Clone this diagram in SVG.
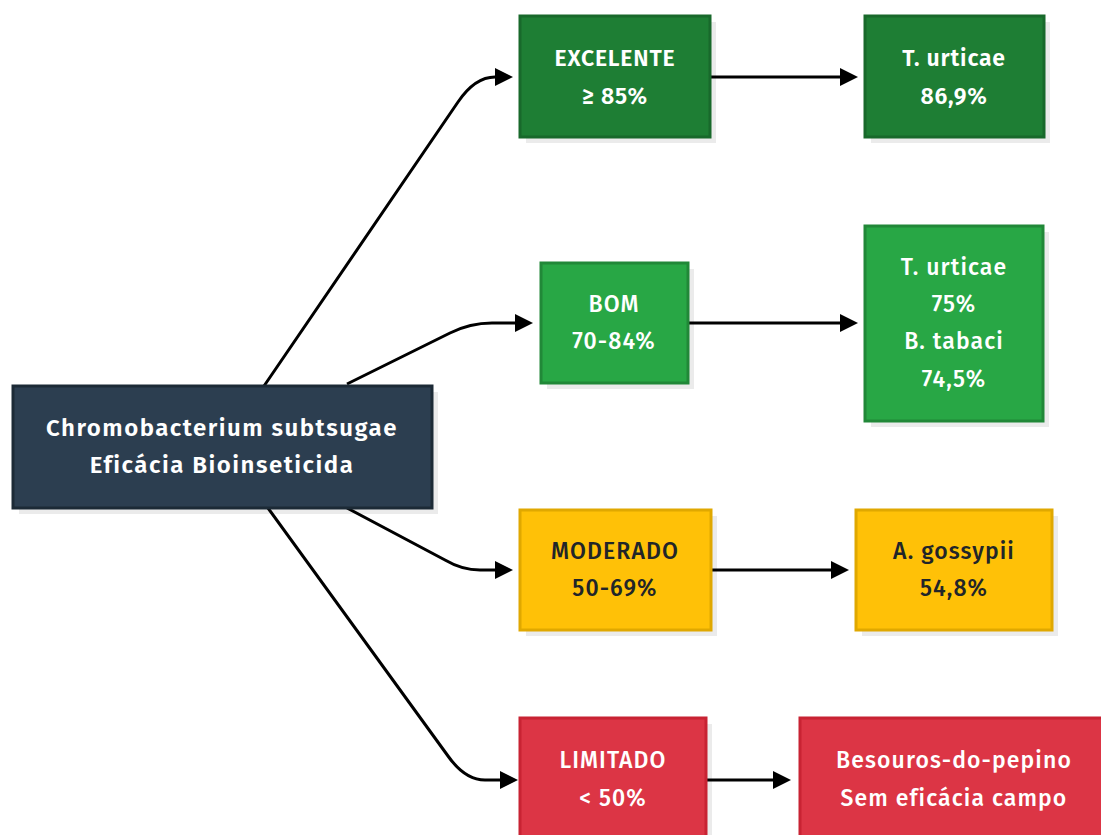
<svg xmlns="http://www.w3.org/2000/svg" width="1101" height="835" viewBox="0 0 1101 835">
<style>
text{font-family:"Fira Sans","Open Sans","Noto Sans","DejaVu Sans",sans-serif;font-size:23px;letter-spacing:0.8px;text-anchor:middle;dominant-baseline:central}
.t{font-size:24px;letter-spacing:1.5px}
.w{fill:#ffffff}.d{fill:#212529}
.b{font-weight:600}.m{font-weight:500;letter-spacing:1.1px}
.sh{fill:#000;opacity:0.08}
.c{fill:none;stroke:#000;stroke-width:3}
.dark{fill:#2c3e50;stroke:#1c2a36;stroke-width:3}
.g1{fill:#1e7e34;stroke:#18692b;stroke-width:3}
.g2{fill:#28a745;stroke:#218838;stroke-width:3}
.y{fill:#ffc107;stroke:#e0a800;stroke-width:3}
.r{fill:#dc3545;stroke:#c82333;stroke-width:3}
</style>
<defs>
<marker id="ah" viewBox="0 0 10 10" refX="0" refY="5" markerWidth="6" markerHeight="6" markerUnits="strokeWidth" orient="auto">
<path d="M0,0 L10,5 L0,10 z" fill="#000"/>
</marker>
</defs>
<rect width="1101" height="835" fill="#ffffff"/>
<g id="connectors">
<path class="c" d="M264,386 L458,102 Q475,77 495,77" marker-end="url(#ah)"/>
<path class="c" d="M347,384 L450,333 Q470,323 492,323 L515,323" marker-end="url(#ah)"/>
<path class="c" d="M347,508 L445,560 Q462,570 480,570 L495,570" marker-end="url(#ah)"/>
<path class="c" d="M268,508 L448,756 Q465,780 485,780 L500,780" marker-end="url(#ah)"/>
<path class="c" d="M710,77 L840,77" marker-end="url(#ah)"/>
<path class="c" d="M688,323 L840,323" marker-end="url(#ah)"/>
<path class="c" d="M711,570 L831,570" marker-end="url(#ah)"/>
<path class="c" d="M706,780 L773,780" marker-end="url(#ah)"/>
</g>
<g id="center">
<rect class="sh" x="19" y="392" width="419" height="122"/>
<rect class="dark" x="13" y="386" width="419" height="122"/>
<text class="w b t" x="222" y="428">Chromobacterium subtsugae</text>
<text class="w b t" x="222" y="465">Eficácia Bioinseticida</text>
</g>
<g id="excelente">
<rect class="sh" x="526" y="22" width="190" height="121"/>
<rect class="g1" x="520" y="16" width="190" height="121"/>
<text class="w b" x="615" y="58">EXCELENTE</text>
<text class="w b" x="615" y="96">≥ 85%</text>
</g>
<g id="excelente-res">
<rect class="sh" x="871" y="22" width="179" height="121"/>
<rect class="g1" x="865" y="16" width="179" height="121"/>
<text class="w b" x="954" y="58">T. urticae</text>
<text class="w b" x="954" y="96">86,9%</text>
</g>
<g id="bom">
<rect class="sh" x="547" y="269" width="147" height="120"/>
<rect class="g2" x="541" y="263" width="147" height="120"/>
<text class="w m" x="614" y="304">BOM</text>
<text class="w m" x="614" y="341">70-84%</text>
</g>
<g id="bom-res">
<rect class="sh" x="871" y="232" width="178" height="195"/>
<rect class="g2" x="865" y="226" width="178" height="195"/>
<text class="w m" x="954" y="267">T. urticae</text>
<text class="w m" x="954" y="304">75%</text>
<text class="w m" x="954" y="341">B. tabaci</text>
<text class="w m" x="954" y="379">74,5%</text>
</g>
<g id="moderado">
<rect class="sh" x="526" y="516" width="191" height="120"/>
<rect class="y" x="520" y="510" width="191" height="120"/>
<text class="d m" x="615" y="551">MODERADO</text>
<text class="d m" x="615" y="588">50-69%</text>
</g>
<g id="moderado-res">
<rect class="sh" x="862" y="516" width="196" height="120"/>
<rect class="y" x="856" y="510" width="196" height="120"/>
<text class="d m" x="954" y="551">A. gossypii</text>
<text class="d m" x="954" y="588">54,8%</text>
</g>
<g id="limitado">
<rect class="sh" x="526" y="724" width="186" height="130"/>
<rect class="r" x="520" y="718" width="186" height="130"/>
<text class="w m" x="613" y="760">LIMITADO</text>
<text class="w m" x="613" y="798">&lt; 50%</text>
</g>
<g id="limitado-res">
<rect class="sh" x="806" y="724" width="310" height="130"/>
<rect class="r" x="800" y="718" width="310" height="130"/>
<text class="w m" x="954" y="760">Besouros-do-pepino</text>
<text class="w m" x="954" y="798">Sem eficácia campo</text>
</g>
</svg>
